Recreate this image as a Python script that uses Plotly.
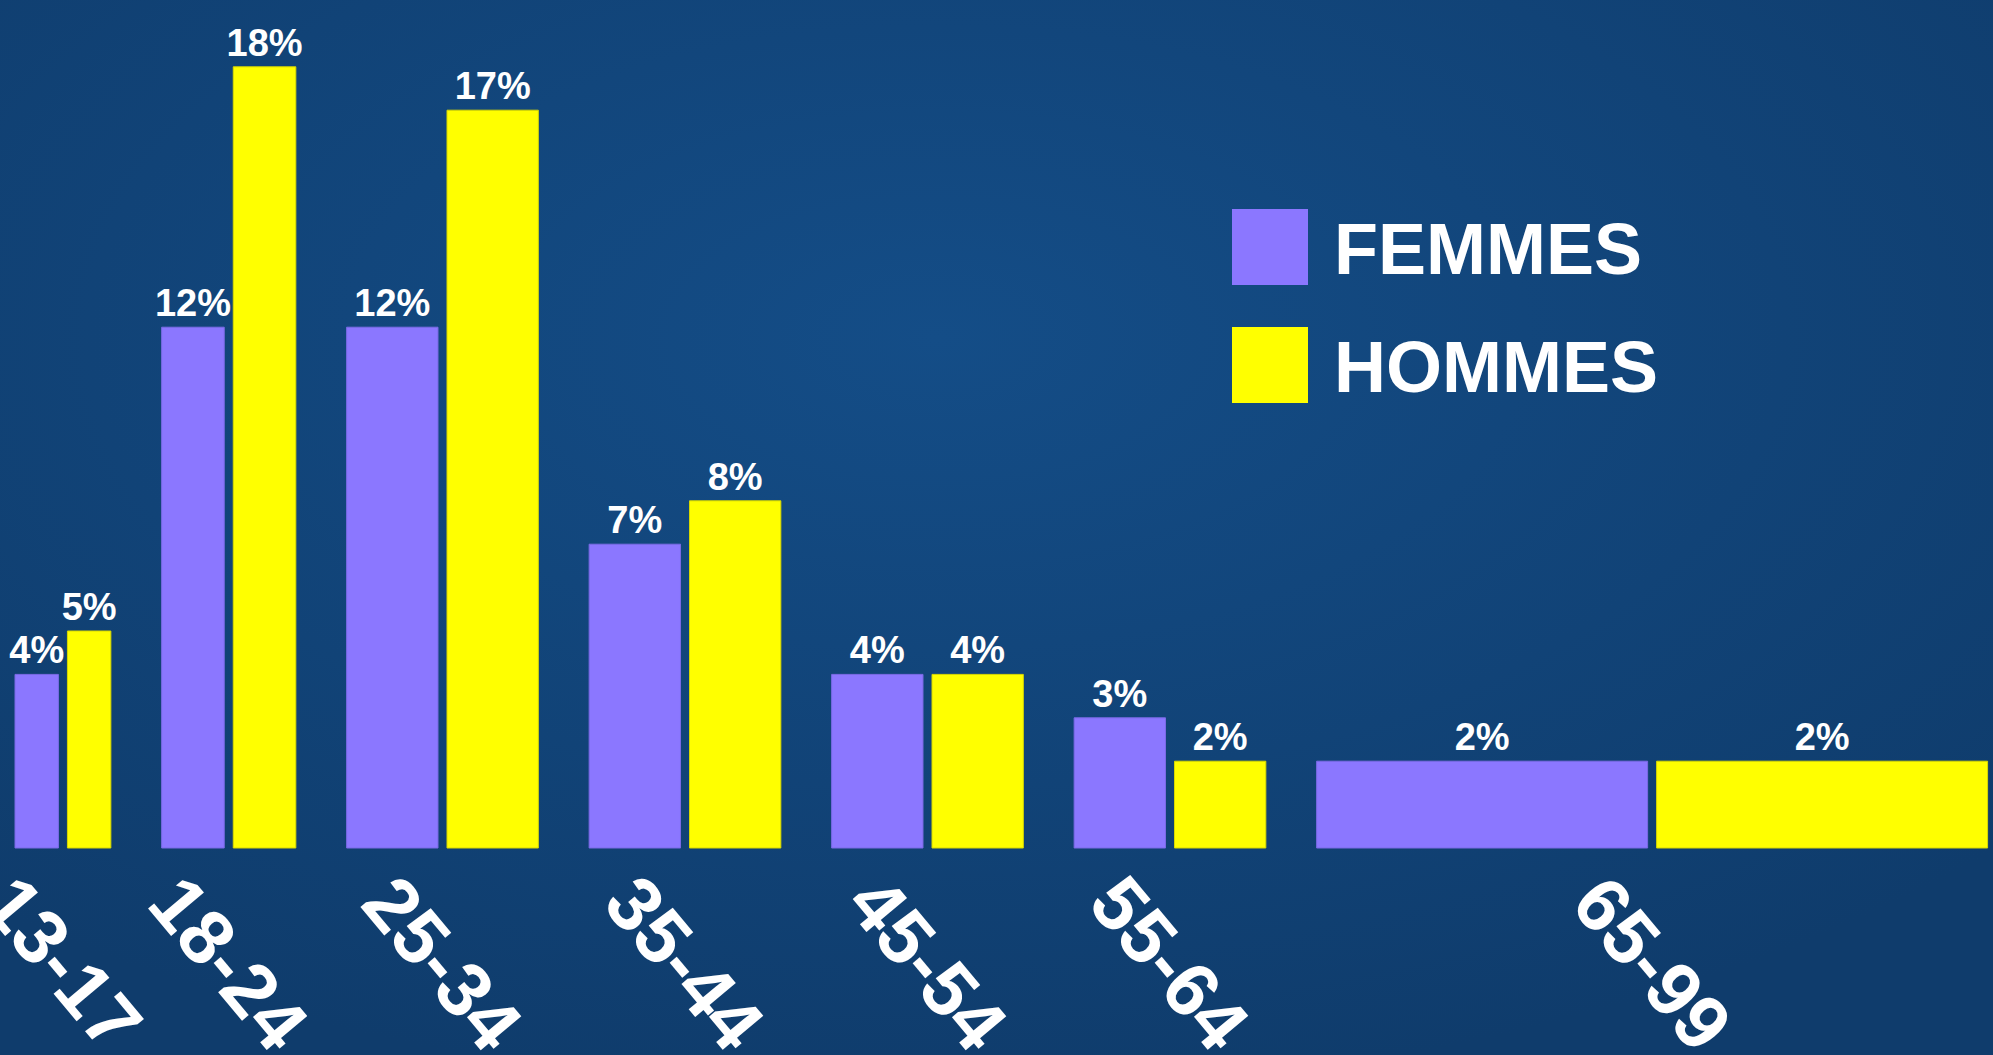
import base64
import numpy as np
import plotly.graph_objects as go

# ---- data ----
age_groups = ["13-17", "18-24", "25-34", "35-44", "45-54", "55-64", "65-99"]
age_low = [13, 18, 25, 35, 45, 55, 65]
age_high = [17, 24, 34, 44, 54, 64, 99]
femmes = [4, 12, 12, 7, 4, 3, 2]
hommes = [5, 18, 17, 8, 4, 2, 2]
series_names = ["FEMMES", "HOMMES"]

# ---- style ----
PURPLE = "#8B77FF"
YELLOW = "#FFFF00"
FONT = "Liberation Sans, Arial, sans-serif"
W, H = 1993, 1055
GAP = 2.65      # gap between age groups (in years on the x scale)
INNER = 0.47    # gap between the two bars of a group

# bar geometry derived from the age spans (width proportional to span)
span = np.array(age_high) - np.array(age_low) + 1
start = np.concatenate([[0], np.cumsum(span)[:-1]]) + np.arange(len(span)) * GAP
half = (span - INNER) / 2
x_f = start + half / 2
x_h = start + span - half / 2
centers = start + span / 2

label_font = dict(color="white", size=38, family=FONT, weight="bold")

fig = go.Figure()
fig.add_trace(go.Bar(
    x=x_f, y=femmes, width=half, name=series_names[0],
    marker=dict(color=PURPLE, line=dict(color="#7B6AE6", width=1)),
    texttemplate="%{y}%", textposition="outside", cliponaxis=False,
    constraintext="none", textfont=label_font, showlegend=False,
))
fig.add_trace(go.Bar(
    x=x_h, y=hommes, width=half, name=series_names[1],
    marker=dict(color=YELLOW, line=dict(color="#D8D800", width=1)),
    texttemplate="%{y}%", textposition="outside", cliponaxis=False,
    constraintext="none", textfont=label_font, showlegend=False,
))

# rotated category labels
for c, lab in zip(centers, age_groups):
    fig.add_annotation(
        x=c, y=-0.22, xref="x", yref="y", text=lab, showarrow=False,
        textangle=50, xanchor="center", yanchor="top",
        font=dict(color="white", size=77, family=FONT, weight="bold"),
    )

# legend (drawn manually for the large swatches)
legend_rows = [(series_names[0], PURPLE, 247), (series_names[1], YELLOW, 365)]
for name, col, yc in legend_rows:
    fig.add_shape(type="rect", xref="paper", yref="paper",
                  x0=1232 / W, x1=1308 / W,
                  y0=1 - (yc + 38) / H, y1=1 - (yc - 38) / H,
                  fillcolor=col, line=dict(width=0))
    fig.add_annotation(x=1332 / W, y=1 - (yc + 2) / H, xref="paper", yref="paper",
                       text=name, showarrow=False, xanchor="left", yanchor="middle",
                       font=dict(color="white", size=72, family=FONT, weight="bold"))

# radial gradient background
svg = (f'<svg xmlns="http://www.w3.org/2000/svg" width="{W}" height="{H}">'
       '<defs><radialGradient id="g" cx="0.47" cy="0.32" r="0.72">'
       '<stop offset="0" stop-color="#144D87"/>'
       '<stop offset="1" stop-color="#0F3C6C"/>'
       '</radialGradient></defs>'
       f'<rect width="{W}" height="{H}" fill="url(#g)"/></svg>')
src = "data:image/svg+xml;base64," + base64.b64encode(svg.encode()).decode()
fig.add_layout_image(source=src, xref="paper", yref="paper", x=0, y=1,
                     sizex=1, sizey=1, sizing="stretch", layer="below",
                     xanchor="left", yanchor="top")

px_per_year = 19.17
base_px = 848
px_per_pct = 43.4
fig.update_layout(
    width=W, height=H, autosize=False,
    margin=dict(l=0, r=0, t=0, b=0),
    paper_bgcolor="#103F70", plot_bgcolor="rgba(0,0,0,0)",
    barmode="overlay",
    xaxis=dict(range=[-15 / px_per_year, (W - 15) / px_per_year],
               visible=False, fixedrange=True),
    yaxis=dict(range=[-(H - base_px) / px_per_pct, base_px / px_per_pct],
               visible=False, fixedrange=True),
)
fig.write_html("out.html")
